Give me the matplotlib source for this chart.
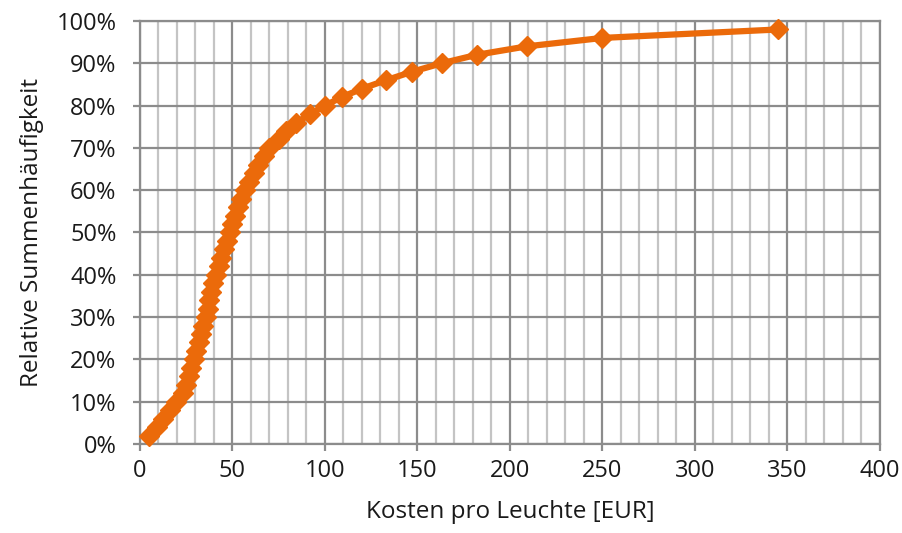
import numpy as np
import matplotlib.pyplot as plt
from matplotlib.ticker import MultipleLocator, PercentFormatter

plt.rcParams['font.family'] = ['Open Sans', 'DejaVu Sans']

# Kosten pro Leuchte [EUR] und relative Summenhäufigkeit [%]
kosten = [5, 9, 12.5, 16, 19.5, 23, 25, 26.5, 27.5, 29,
          30.5, 32, 33, 34, 35.5, 36.5, 37.5, 38.5, 39.5, 41,
          42.5, 44, 45.5, 47, 48.5, 50, 51.5, 53, 54.5, 56.5,
          59, 61.5, 64, 67, 70, 75, 79, 84.5, 92, 100,
          109, 120, 133, 147, 163, 182, 209, 250, 345]
anteil = list(range(2, 100, 2))

orange = '#EB6A0A'
grau = '#8c8c8c'

fig = plt.figure(figsize=(9.03, 5.33), dpi=100)
ax = fig.add_axes([140 / 903, 1 - 444 / 533, 740 / 903, 423 / 533])

ax.plot(kosten, anteil, color=orange, lw=4.5, marker='D', ms=10,
        mec=orange, mfc=orange, zorder=3, clip_on=False)

ax.set_xlim(0, 400)
ax.set_ylim(0, 100)
ax.xaxis.set_major_locator(MultipleLocator(50))
ax.xaxis.set_minor_locator(MultipleLocator(10))
ax.yaxis.set_major_locator(MultipleLocator(10))
ax.yaxis.set_major_formatter(PercentFormatter(decimals=0))

ax.grid(which='major', axis='both', color=grau, lw=1.6)
ax.grid(which='minor', axis='x', color='#c4c4c4', lw=1.6)
ax.set_axisbelow(True)

for s in ax.spines.values():
    s.set_color(grau)
    s.set_linewidth(1.6)

ax.tick_params(axis='both', which='major', color=grau, width=1.6,
               length=5, labelsize=17, labelcolor='#1a1a1a')
ax.tick_params(axis='x', which='major', pad=6)
ax.tick_params(axis='y', which='major', pad=12)
ax.tick_params(which='minor', length=0)

ax.set_xlabel('Kosten pro Leuchte [EUR]', fontsize=17.5, color='#1a1a1a', labelpad=12)
ax.set_ylabel('Relative Summenhäufigkeit', fontsize=17.5, color='#1a1a1a', labelpad=9)

fig.savefig('out.png', dpi=100)
